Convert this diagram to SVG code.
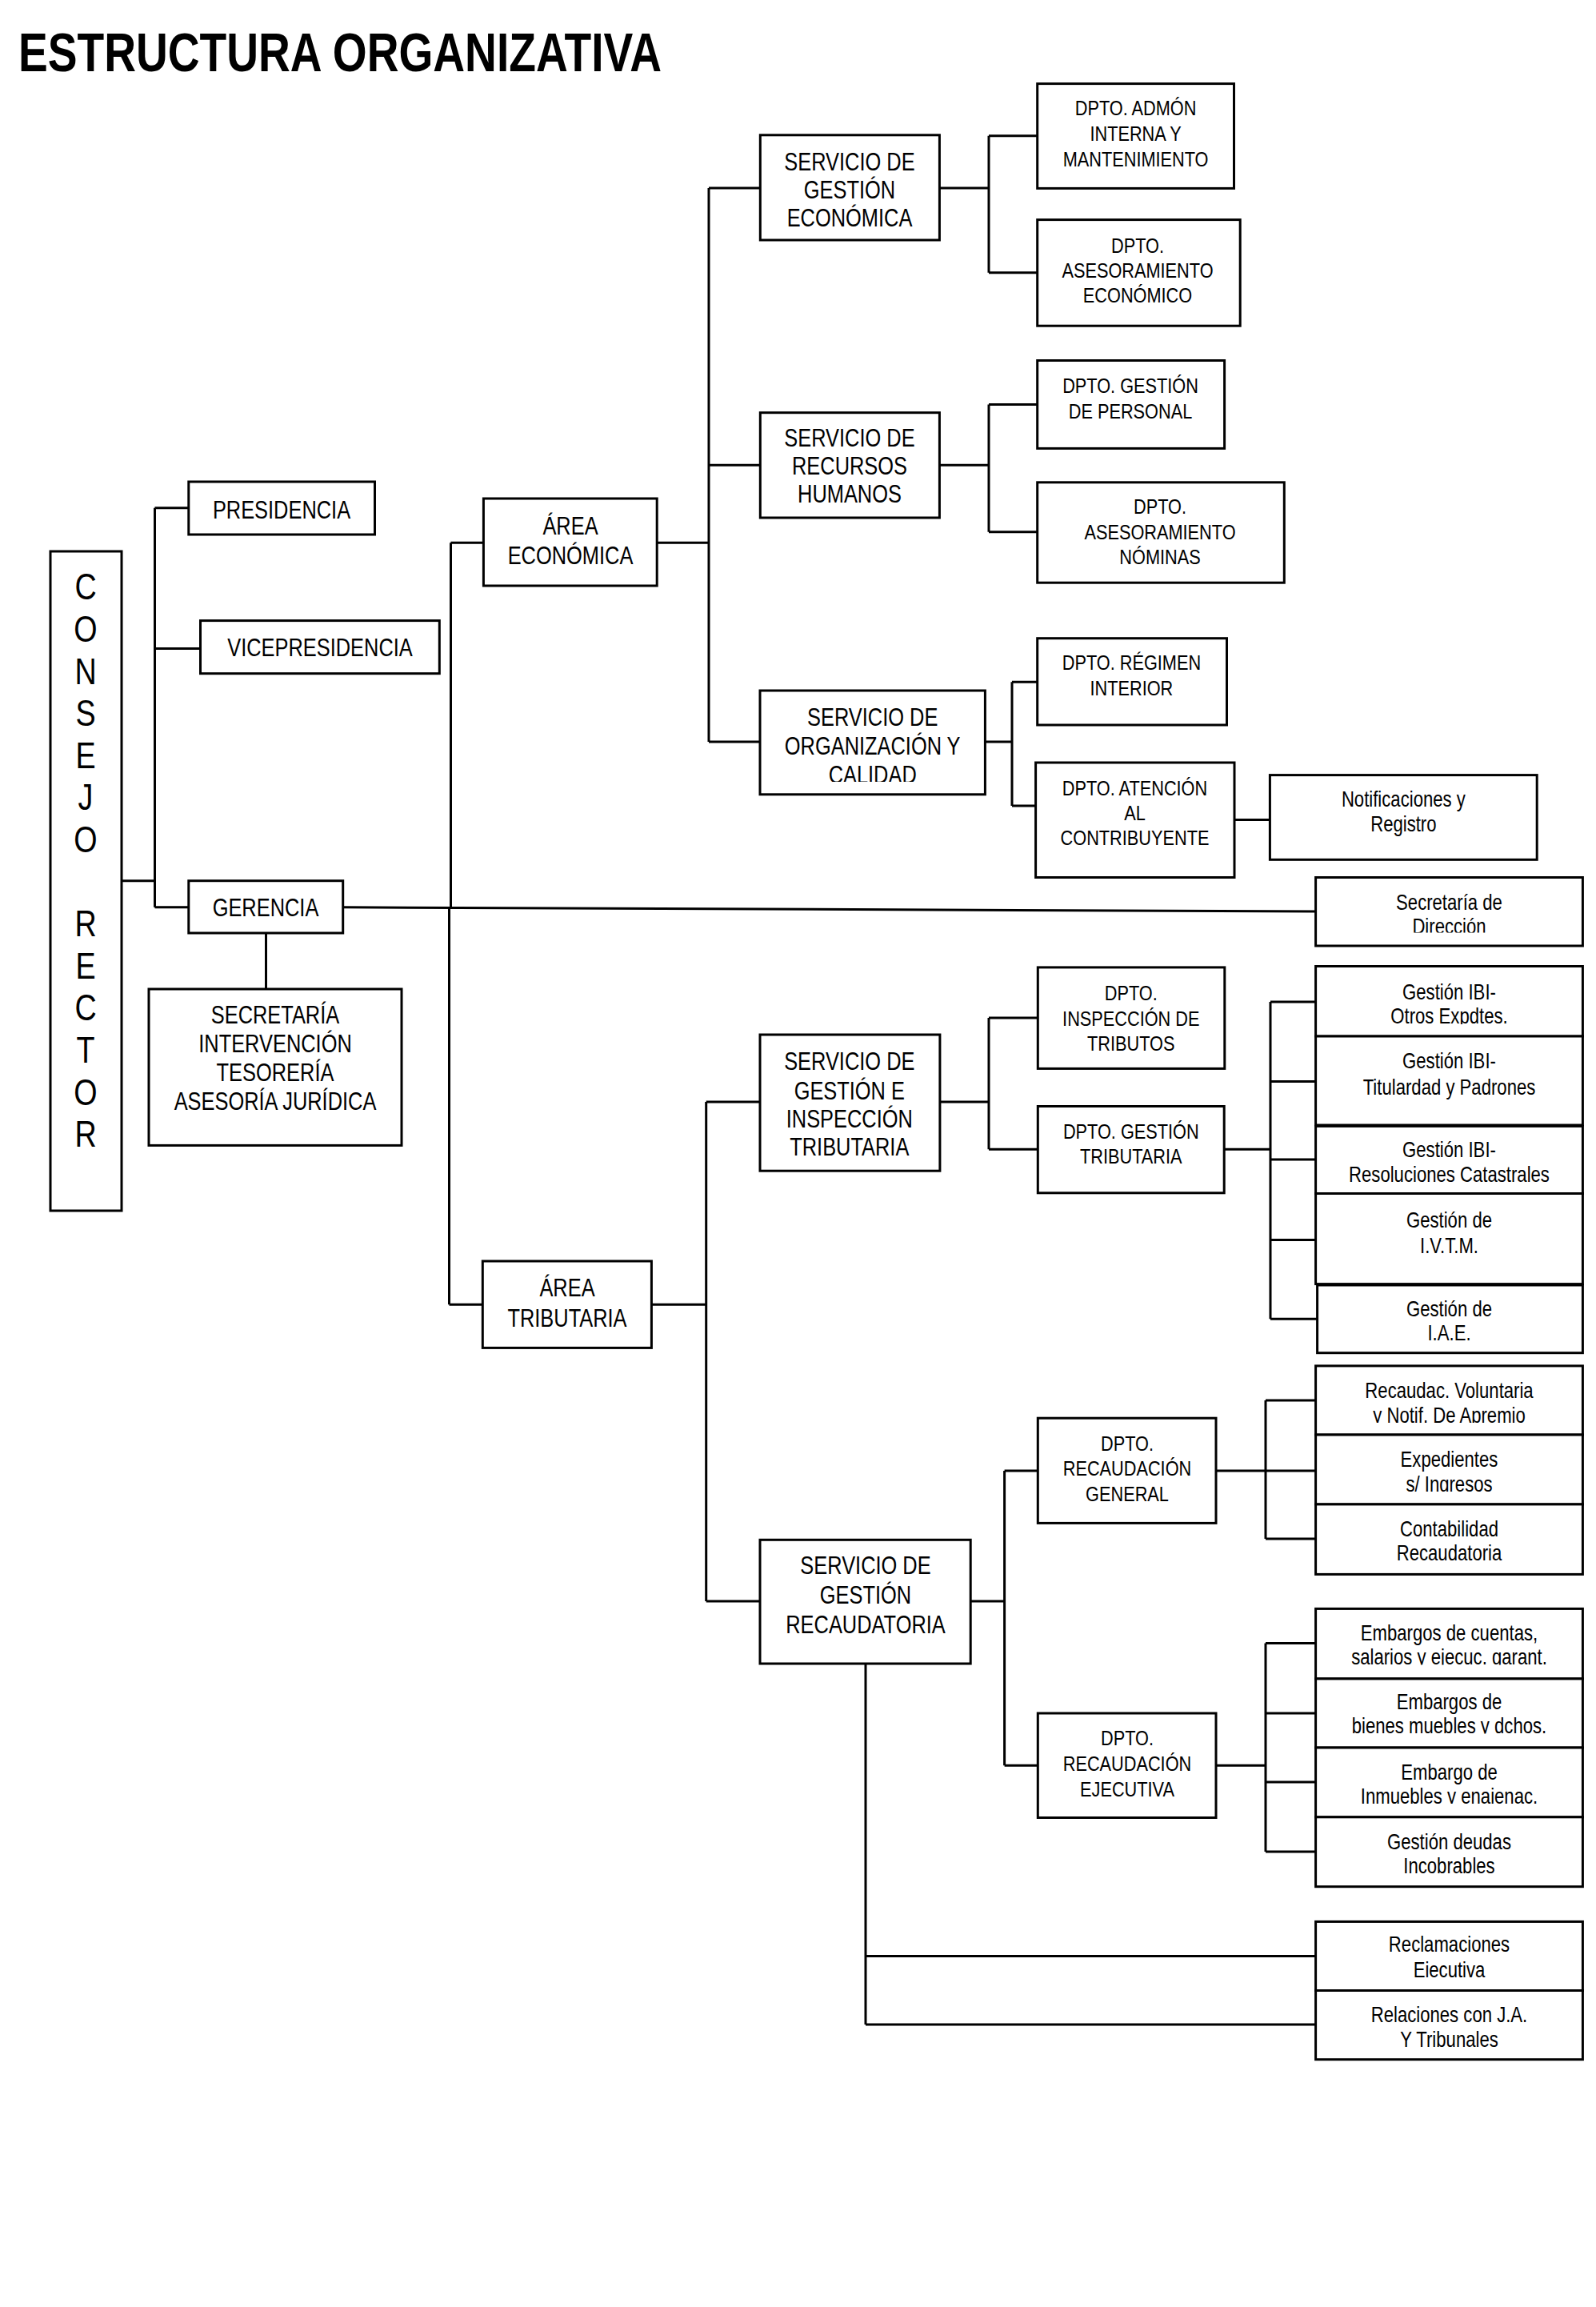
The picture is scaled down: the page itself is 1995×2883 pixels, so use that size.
<svg xmlns="http://www.w3.org/2000/svg" width="1995" height="2883" viewBox="0 0 1995 2883">
<style>
.b{fill:#fff;stroke:#000;stroke-width:3}
.c{fill:none;stroke:#000;stroke-width:3}
text{font-family:"Liberation Sans Narrow","Arial Narrow","Liberation Sans",Arial,sans-serif;fill:#000;text-anchor:middle;transform-box:fill-box;transform-origin:center;transform:scaleX(0.82)}
.t1{font-size:31px}
.t2{font-size:26.5px}
.t3{font-size:27px}
.cr{font-size:46px}
.ti{font-size:68px;font-weight:bold;text-anchor:start;transform:none}
</style>
<defs>
<clipPath id="cSOC"><rect x="948" y="860" width="286" height="117"/></clipPath>
<clipPath id="cSD"><rect x="1643" y="1095" width="337" height="70.5"/></clipPath>
<clipPath id="cOE"><rect x="1643" y="1206" width="337" height="74"/></clipPath>
<clipPath id="cRV"><rect x="1643" y="1705" width="337" height="73"/></clipPath>
<clipPath id="cEX"><rect x="1643" y="1792" width="337" height="72"/></clipPath>
<clipPath id="cEC"><rect x="1643" y="2009" width="337" height="71.5"/></clipPath>
<clipPath id="cEB"><rect x="1643" y="2096" width="337" height="70.5"/></clipPath>
<clipPath id="cEI"><rect x="1643" y="2183" width="337" height="71"/></clipPath>
<clipPath id="cRE"><rect x="1643" y="2400" width="337" height="71"/></clipPath>
</defs>
<rect width="1995" height="2883" fill="#fff"/>
<text class="ti" x="23" y="89" textLength="804" lengthAdjust="spacingAndGlyphs">ESTRUCTURA ORGANIZATIVA</text>

<g id="connectors" class="c">
<path d="M152,1100.7H193.5M193.5,634.7V1133.8M193.5,634.7H235.8M193.5,810.5H250.5M193.5,1133.8H235.8"/>
<path d="M332.5,1166V1236"/>
<path d="M428.7,1133.8L1644.6,1139"/>
<path d="M563.5,678.2V1134M561.5,1134V1630.2M563.5,678.2H604.4M561.5,1630.2H603.3"/>
<path d="M821.2,678.2H886M886,235V927M886,235H950.3M886,581.3H950.3M886,927H950"/>
<path d="M814.4,1630.2H882.7M882.7,1377V2001M882.7,1377H950M882.7,2001H950"/>
<path d="M1174.4,235H1236M1236,169.7V340.7M1236,169.7H1296.7M1236,340.7H1296.7"/>
<path d="M1174.4,581.3H1236M1236,505.4V664.8M1236,505.4H1296.7M1236,664.8H1296.7"/>
<path d="M1231.4,927H1265M1265,852.2V1007M1265,852.2H1296.7M1265,1007H1294.6"/>
<path d="M1543,1024.5H1587.4"/>
<path d="M1174.9,1377H1236M1236,1272V1436.3M1236,1272H1297.3M1236,1436.3H1297.3"/>
<path d="M1530.2,1436.3H1588M1588,1252V1648.3M1588,1252H1644.6M1588,1351.5H1644.6M1588,1449H1644.6M1588,1549.4H1644.6M1588,1648.3H1646.6"/>
<path d="M1213.2,2001H1255.6M1255.6,1838V2206.2M1255.6,1838H1297.3M1255.6,2206.2H1297.3"/>
<path d="M1520,1838H1582M1582,1750V1923M1582,1750H1644.6M1582,1838H1644.6M1582,1923H1644.6"/>
<path d="M1520,2206.2H1582M1582,2053.5V2314M1582,2053.5H1644.6M1582,2141H1644.6M1582,2227H1644.6M1582,2314H1644.6"/>
<path d="M1082,2079V2530M1082,2444.5H1644.6M1082,2530H1644.6"/>
</g>

<g id="consejo-rector">
<rect class="b" x="63" y="689" width="89" height="824"/>
<text class="cr"><tspan x="107" y="749.5">C</tspan><tspan x="107" y="802.1">O</tspan><tspan x="107" y="854.7">N</tspan><tspan x="107" y="907.3">S</tspan><tspan x="107" y="959.9">E</tspan><tspan x="107" y="1012.5">J</tspan><tspan x="107" y="1065.1">O</tspan><tspan x="107" y="1170.3">R</tspan><tspan x="107" y="1222.9">E</tspan><tspan x="107" y="1275.5">C</tspan><tspan x="107" y="1328.1">T</tspan><tspan x="107" y="1380.7">O</tspan><tspan x="107" y="1433.3">R</tspan></text>
</g>

<g id="presidencia">
<rect class="b" x="235.8" y="602" width="232.7" height="66"/>
<text class="t1" x="352" y="647.6">PRESIDENCIA</text>
</g>
<g id="vicepresidencia">
<rect class="b" x="250.5" y="775.6" width="298.8" height="66.1"/>
<text class="t1" x="400" y="820.3">VICEPRESIDENCIA</text>
</g>
<g id="gerencia">
<rect class="b" x="235.8" y="1100.7" width="192.9" height="65.3"/>
<text class="t1" x="332" y="1144.8">GERENCIA</text>
</g>
<g id="secretaria-intervencion">
<rect class="b" x="186" y="1236" width="316" height="195.4"/>
<text class="t1"><tspan x="344" y="1279.5">SECRETARÍA</tspan><tspan x="344" y="1315.3">INTERVENCIÓN</tspan><tspan x="344" y="1351.1">TESORERÍA</tspan><tspan x="344" y="1386.9">ASESORÍA JURÍDICA</tspan></text>
</g>
<g id="area-economica">
<rect class="b" x="604.4" y="623" width="216.8" height="109"/>
<text class="t1"><tspan x="713" y="668">ÁREA</tspan><tspan x="713" y="705">ECONÓMICA</tspan></text>
</g>
<g id="area-tributaria">
<rect class="b" x="603.3" y="1576" width="211.1" height="108.4"/>
<text class="t1"><tspan x="709" y="1620">ÁREA</tspan><tspan x="709" y="1657.7">TRIBUTARIA</tspan></text>
</g>

<g id="serv-gestion-economica">
<rect class="b" x="950.3" y="168.8" width="224.1" height="131.2"/>
<text class="t1"><tspan x="1062" y="212.6">SERVICIO DE</tspan><tspan x="1062" y="247.6">GESTIÓN</tspan><tspan x="1062" y="283.1">ECONÓMICA</tspan></text>
</g>
<g id="serv-recursos-humanos">
<rect class="b" x="950.3" y="515.7" width="224.1" height="131.3"/>
<text class="t1"><tspan x="1062" y="557.7">SERVICIO DE</tspan><tspan x="1062" y="593.4">RECURSOS</tspan><tspan x="1062" y="628.2">HUMANOS</tspan></text>
</g>
<g id="serv-organizacion-calidad">
<rect class="b" x="950" y="863" width="281.4" height="129.8"/>
<text class="t1"><tspan x="1090.7" y="906.7">SERVICIO DE</tspan><tspan x="1090.7" y="943">ORGANIZACIÓN Y</tspan></text>
<text class="t1" clip-path="url(#cSOC)" x="1090.7" y="978.7">CALIDAD</text>
</g>
<g id="serv-gestion-inspeccion">
<rect class="b" x="950" y="1293" width="224.9" height="170.2"/>
<text class="t1"><tspan x="1061.8" y="1337.4">SERVICIO DE</tspan><tspan x="1061.8" y="1373.7">GESTIÓN E</tspan><tspan x="1061.8" y="1409.4">INSPECCIÓN</tspan><tspan x="1061.8" y="1444.4">TRIBUTARIA</tspan></text>
</g>
<g id="serv-gestion-recaudatoria">
<rect class="b" x="950" y="1924.3" width="263.2" height="154.7"/>
<text class="t1"><tspan x="1082" y="1967.3">SERVICIO DE</tspan><tspan x="1082" y="2004.4">GESTIÓN</tspan><tspan x="1082" y="2040.7">RECAUDATORIA</tspan></text>
</g>

<g id="dpto-admon-interna">
<rect class="b" x="1296.7" y="104.6" width="245.8" height="130.8"/>
<text class="t2"><tspan x="1419.6" y="144.5">DPTO. ADMÓN</tspan><tspan x="1419.6" y="176.5">INTERNA Y</tspan><tspan x="1419.6" y="208.5">MANTENIMIENTO</tspan></text>
</g>
<g id="dpto-asesoramiento-economico">
<rect class="b" x="1296.7" y="274.6" width="253.5" height="132.6"/>
<text class="t2"><tspan x="1422" y="315.7">DPTO.</tspan><tspan x="1422" y="347">ASESORAMIENTO</tspan><tspan x="1422" y="378.2">ECONÓMICO</tspan></text>
</g>
<g id="dpto-gestion-personal">
<rect class="b" x="1296.7" y="450.5" width="233.9" height="109.9"/>
<text class="t2"><tspan x="1413" y="490.7">DPTO. GESTIÓN</tspan><tspan x="1413" y="523.3">DE PERSONAL</tspan></text>
</g>
<g id="dpto-asesoramiento-nominas">
<rect class="b" x="1296.7" y="602.8" width="308.6" height="125.4"/>
<text class="t2"><tspan x="1450" y="642.5">DPTO.</tspan><tspan x="1450" y="673.8">ASESORAMIENTO</tspan><tspan x="1450" y="705">NÓMINAS</tspan></text>
</g>
<g id="dpto-regimen-interior">
<rect class="b" x="1296.7" y="797.7" width="236.8" height="108.3"/>
<text class="t2"><tspan x="1414.4" y="837.4">DPTO. RÉGIMEN</tspan><tspan x="1414.4" y="869">INTERIOR</tspan></text>
</g>
<g id="dpto-atencion-contribuyente">
<rect class="b" x="1294.6" y="953" width="248.4" height="143.5"/>
<text class="t2"><tspan x="1418.5" y="994.2">DPTO. ATENCIÓN</tspan><tspan x="1418.5" y="1025">AL</tspan><tspan x="1418.5" y="1056">CONTRIBUYENTE</tspan></text>
</g>
<g id="notificaciones-registro">
<rect class="b" x="1587.4" y="968.6" width="333.8" height="105.7"/>
<text class="t3"><tspan x="1754.3" y="1007.6">Notificaciones y</tspan><tspan x="1754.3" y="1039.3">Registro</tspan></text>
</g>
<g id="secretaria-direccion">
<rect class="b" x="1644.6" y="1096.5" width="333.8" height="85.5"/>
<text class="t3" x="1811.5" y="1136.9">Secretaría de</text>
<text class="t3" clip-path="url(#cSD)" x="1811.5" y="1167">Dirección</text>
</g>
<g id="dpto-inspeccion-tributos">
<rect class="b" x="1297.3" y="1208.9" width="233.5" height="126.5"/>
<text class="t2"><tspan x="1413.8" y="1249.9">DPTO.</tspan><tspan x="1413.8" y="1282.2">INSPECCIÓN DE</tspan><tspan x="1413.8" y="1313.2">TRIBUTOS</tspan></text>
</g>
<g id="dpto-gestion-tributaria">
<rect class="b" x="1297.3" y="1382.5" width="232.9" height="108.3"/>
<text class="t2"><tspan x="1413.8" y="1422.8">DPTO. GESTIÓN</tspan><tspan x="1413.8" y="1454.5">TRIBUTARIA</tspan></text>
</g>
<g id="gestion-ibi-otros">
<rect class="b" x="1644.6" y="1207.5" width="333.8" height="87.5"/>
<text class="t3" x="1811.5" y="1249.2">Gestión IBI-</text>
<text class="t3" clip-path="url(#cOE)" x="1811.5" y="1279.5">Otros Expdtes.</text>
</g>
<g id="gestion-ibi-titularidad">
<rect class="b" x="1644.6" y="1295" width="333.8" height="111"/>
<text class="t3"><tspan x="1811.5" y="1335.4">Gestión IBI-</tspan><tspan x="1811.5" y="1367.7">Titulardad y Padrones</tspan></text>
</g>
<g id="gestion-ibi-resoluciones">
<rect class="b" x="1644.6" y="1407.4" width="333.8" height="84.1"/>
<text class="t3"><tspan x="1811.5" y="1446.4">Gestión IBI-</tspan><tspan x="1811.5" y="1477.4">Resoluciones Catastrales</tspan></text>
</g>
<g id="gestion-ivtm">
<rect class="b" x="1644.6" y="1491.5" width="333.8" height="113.1"/>
<text class="t3"><tspan x="1811.5" y="1533.9">Gestión de</tspan><tspan x="1811.5" y="1566.2">I.V.T.M.</tspan></text>
</g>
<g id="gestion-iae">
<rect class="b" x="1646.6" y="1606" width="331.8" height="84.7"/>
<text class="t3"><tspan x="1811.5" y="1645">Gestión de</tspan><tspan x="1811.5" y="1675.2">I.A.E.</tspan></text>
</g>
<g id="dpto-recaudacion-general">
<rect class="b" x="1297.3" y="1772.2" width="222.7" height="131.2"/>
<text class="t2"><tspan x="1409" y="1812.6">DPTO.</tspan><tspan x="1409" y="1844.2">RECAUDACIÓN</tspan><tspan x="1409" y="1876.5">GENERAL</tspan></text>
</g>
<g id="recaudac-voluntaria">
<rect class="b" x="1644.6" y="1706.9" width="333.8" height="86.1"/>
<text class="t3" x="1811.5" y="1747.3">Recaudac. Voluntaria</text>
<text class="t3" clip-path="url(#cRV)" x="1811.5" y="1777.6">y Notif. De Apremio</text>
</g>
<g id="expedientes-ingresos">
<rect class="b" x="1644.6" y="1793" width="333.8" height="86.9"/>
<text class="t3" x="1811.5" y="1833.4">Expedientes</text>
<text class="t3" clip-path="url(#cEX)" x="1811.5" y="1863.7">s/ Ingresos</text>
</g>
<g id="contabilidad-recaudatoria">
<rect class="b" x="1644.6" y="1879.9" width="333.8" height="87.5"/>
<text class="t3"><tspan x="1811.5" y="1920.2">Contabilidad</tspan><tspan x="1811.5" y="1950.5">Recaudatoria</tspan></text>
</g>
<g id="dpto-recaudacion-ejecutiva">
<rect class="b" x="1297.3" y="2141" width="222.7" height="130.5"/>
<text class="t2"><tspan x="1409" y="2181.3">DPTO.</tspan><tspan x="1409" y="2213">RECAUDACIÓN</tspan><tspan x="1409" y="2245.3">EJECUTIVA</tspan></text>
</g>
<g id="embargos-cuentas">
<rect class="b" x="1644.6" y="2010.4" width="333.8" height="87.5"/>
<text class="t3" x="1811.5" y="2050">Embargos de cuentas,</text>
<text class="t3" clip-path="url(#cEC)" x="1811.5" y="2080.4">salarios y ejecuc. garant.</text>
</g>
<g id="embargos-bienes-muebles">
<rect class="b" x="1644.6" y="2097.9" width="333.8" height="86.1"/>
<text class="t3" x="1811.5" y="2136.3">Embargos de</text>
<text class="t3" clip-path="url(#cEB)" x="1811.5" y="2166.5">bienes muebles y dchos.</text>
</g>
<g id="embargo-inmuebles">
<rect class="b" x="1644.6" y="2184" width="333.8" height="86.8"/>
<text class="t3" x="1811.5" y="2223.7">Embargo de</text>
<text class="t3" clip-path="url(#cEI)" x="1811.5" y="2254">Inmuebles y enajenac.</text>
</g>
<g id="gestion-deudas-incobrables">
<rect class="b" x="1644.6" y="2270.8" width="333.8" height="86.9"/>
<text class="t3"><tspan x="1811.5" y="2310.6">Gestión deudas</tspan><tspan x="1811.5" y="2340.8">Incobrables</tspan></text>
</g>
<g id="reclamaciones-ejecutiva">
<rect class="b" x="1644.6" y="2401.4" width="333.8" height="86.1"/>
<text class="t3" x="1811.5" y="2439">Reclamaciones</text>
<text class="t3" clip-path="url(#cRE)" x="1811.5" y="2470.7">Ejecutiva</text>
</g>
<g id="relaciones-ja-tribunales">
<rect class="b" x="1644.6" y="2487.5" width="333.8" height="86.2"/>
<text class="t3"><tspan x="1811.5" y="2526.6">Relaciones con J.A.</tspan><tspan x="1811.5" y="2558.2">Y Tribunales</tspan></text>
</g>
</svg>
